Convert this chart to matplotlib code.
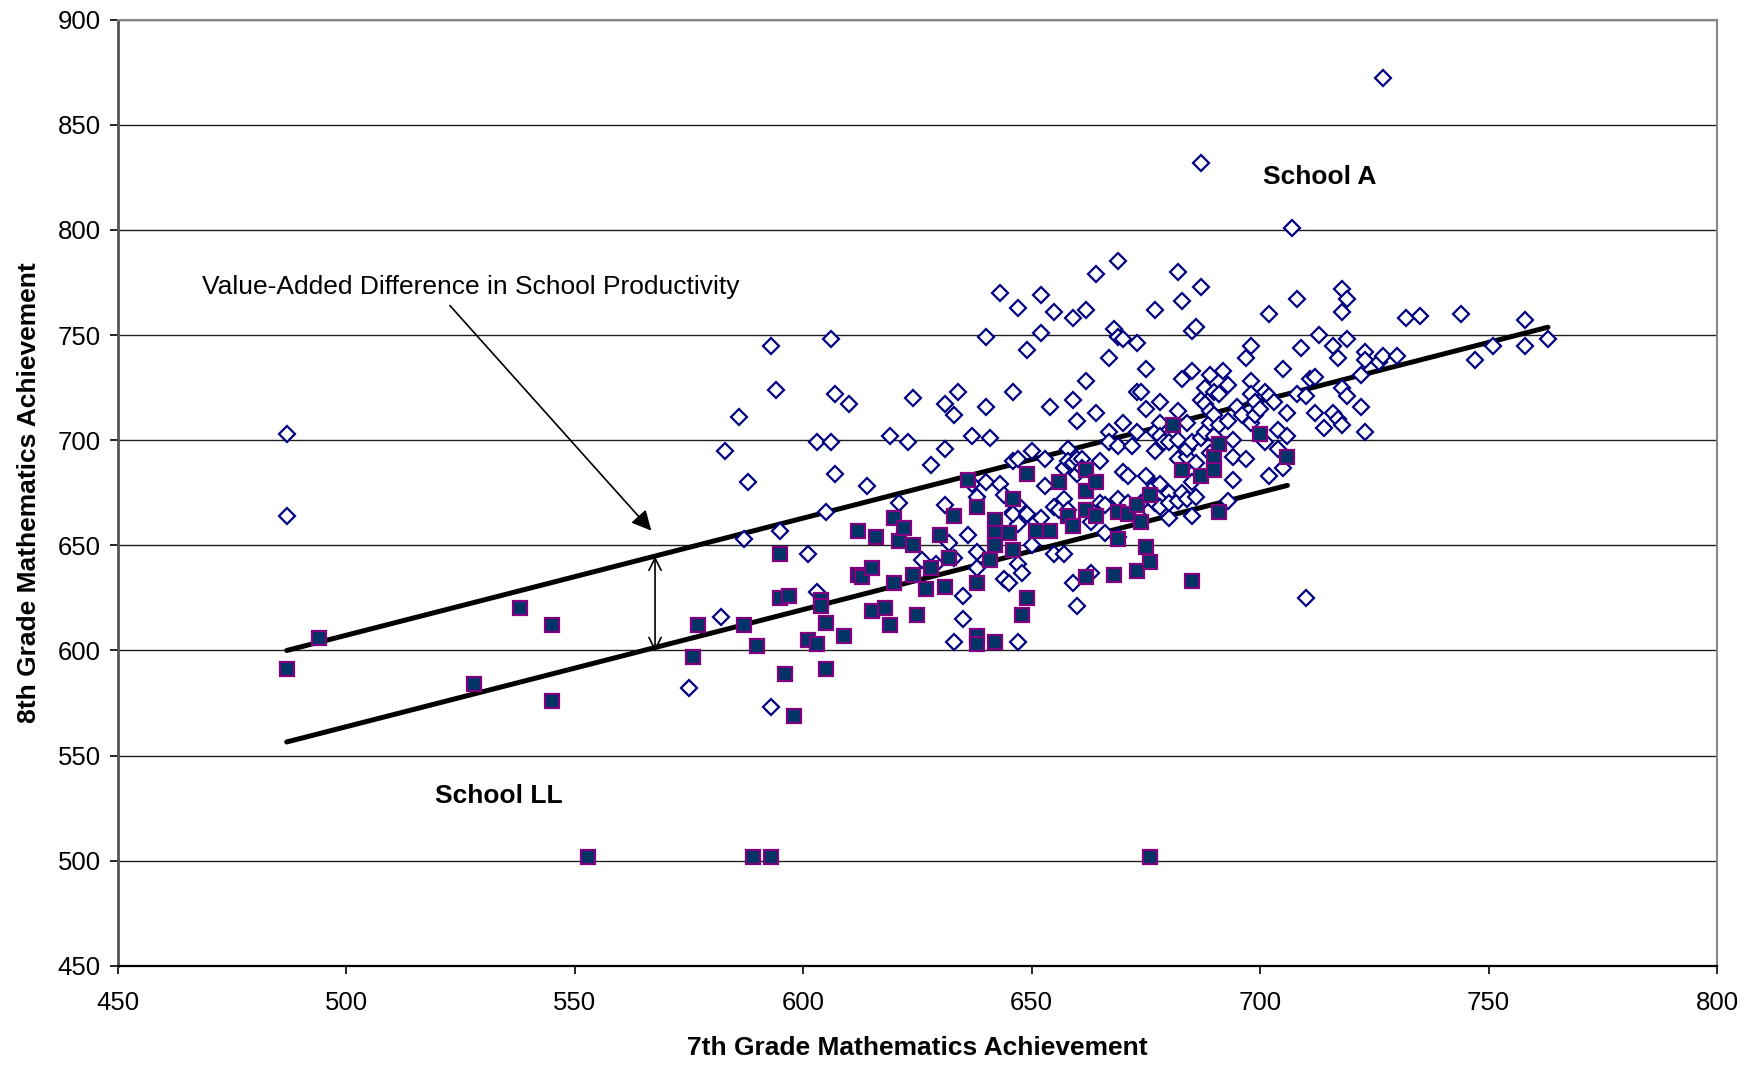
import numpy as np
import matplotlib
matplotlib.use("Agg")
import matplotlib.pyplot as plt

plt.rcParams['font.family'] = ['Liberation Sans', 'DejaVu Sans']

# School A students: (7th grade score, 8th grade score)
school_a = [
    (487, 703), (487, 664),
    (575, 582), (582, 616), (583, 695), (586, 711), (587, 653), (588, 680),
    (593, 745), (593, 573), (594, 724), (595, 657), (601, 646), (603, 628),
    (603, 699), (605, 666), (606, 699), (606, 748), (607, 722), (607, 684),
    (610, 717), (614, 678), (619, 702), (621, 670), (623, 699), (624, 720),
    (626, 643), (628, 688), (629, 641), (631, 717), (631, 696), (631, 669),
    (632, 651), (633, 712), (633, 644), (633, 604), (634, 723), (635, 626),
    (635, 615), (637, 702), (636, 655), (637, 679), (638, 673), (638, 647),
    (638, 639), (640, 749), (640, 716), (641, 701), (640, 680), (643, 770),
    (643, 679), (644, 674), (644, 634), (645, 632), (646, 690), (646, 723),
    (646, 666), (647, 763), (647, 691), (647, 669), (647, 641), (647, 604),
    (647, 660), (648, 637), (646, 665), (649, 743), (649, 665), (650, 695),
    (650, 650), (651, 661), (652, 769), (652, 751), (652, 663), (653, 678),
    (653, 691), (654, 716), (655, 646), (657, 646), (655, 761), (655, 668),
    (656, 667), (657, 687), (657, 672), (658, 696), (658, 690), (658, 667),
    (659, 758), (659, 719), (659, 689), (659, 632), (660, 709), (660, 691),
    (660, 684), (660, 621), (661, 691), (661, 687), (662, 762), (662, 728),
    (663, 637), (663, 661), (664, 779), (664, 713), (665, 690), (665, 670),
    (666, 656), (666, 669), (667, 739), (667, 704), (667, 699), (668, 753),
    (669, 785), (669, 749), (669, 697), (669, 672), (669, 654), (670, 748),
    (670, 708), (670, 685), (671, 683), (671, 670), (672, 697), (673, 746),
    (673, 723), (673, 704), (673, 665), (674, 723), (674, 670), (675, 734),
    (675, 715), (675, 683), (677, 762), (677, 704), (677, 695), (677, 670),
    (677, 678), (678, 718), (678, 708), (678, 702), (678, 679), (678, 668),
    (679, 699), (680, 699), (680, 675), (680, 663), (680, 670), (682, 780),
    (682, 714), (682, 691), (682, 671), (682, 700), (683, 766), (683, 729),
    (683, 675), (684, 708), (684, 692), (684, 672), (684, 696), (685, 752),
    (685, 733), (685, 699), (685, 684), (685, 680), (685, 664), (686, 754),
    (686, 689), (686, 673), (687, 832), (687, 773), (687, 719), (687, 701),
    (688, 725), (688, 717), (688, 704), (689, 731), (689, 714), (689, 708),
    (689, 694), (690, 723), (690, 712), (690, 702), (691, 722), (691, 707),
    (692, 733), (693, 726), (693, 709), (693, 671), (694, 700), (694, 692),
    (694, 681), (695, 716), (696, 712), (697, 739), (697, 691), (698, 745),
    (698, 728), (698, 722), (698, 708), (699, 718), (699, 712), (700, 715),
    (701, 723), (701, 699), (702, 760), (702, 721), (702, 683), (703, 718),
    (704, 705), (704, 696), (705, 734), (705, 687), (706, 713), (706, 702),
    (707, 801), (708, 767), (708, 722), (709, 744), (710, 721), (710, 625),
    (711, 729), (712, 730), (712, 713), (713, 750), (714, 706), (716, 745),
    (716, 713), (717, 739), (717, 710), (718, 772), (718, 761), (718, 725),
    (718, 707), (719, 767), (719, 748), (719, 721), (722, 731), (722, 716),
    (723, 742), (723, 738), (723, 704), (726, 737), (727, 740), (727, 872),
    (730, 740), (732, 758), (735, 759), (744, 760), (747, 738), (751, 745),
    (758, 757), (758, 745), (763, 748),
]

# School LL students
school_ll = [
    (487, 591), (494, 606), (528, 584), (538, 620), (545, 612), (545, 576),
    (553, 502), (576, 597), (577, 612), (587, 612), (589, 502), (590, 602),
    (593, 502), (595, 646), (595, 625), (596, 589), (597, 626), (598, 569),
    (601, 605), (603, 603), (604, 624), (604, 621), (605, 613), (605, 591),
    (609, 607), (612, 657), (612, 636), (613, 635), (615, 639), (615, 619),
    (616, 654), (618, 620), (619, 612), (620, 663), (620, 632), (621, 652),
    (622, 658), (624, 650), (624, 636), (625, 617), (627, 629), (628, 639),
    (630, 655), (631, 630), (632, 644), (633, 664), (636, 681), (638, 668),
    (638, 632), (638, 607), (638, 603), (641, 643), (642, 662), (642, 656),
    (642, 650), (642, 604), (645, 656), (646, 672), (646, 648), (648, 617),
    (649, 684), (649, 625), (651, 657), (654, 657), (656, 680), (658, 664),
    (659, 659), (662, 686), (662, 676), (662, 667), (662, 635), (664, 680),
    (664, 664), (668, 636), (669, 666), (669, 653), (671, 665), (673, 669),
    (673, 638), (674, 661), (675, 649), (676, 674), (676, 642), (676, 502),
    (681, 707), (683, 686), (685, 633), (687, 683), (690, 692), (690, 686),
    (691, 698), (691, 666), (700, 703), (706, 692),
]

# fitted lines for each school (same slope)
line_a_x = [487, 763]
line_a_y = [600, 753.7]
line_ll_x = [487, 706]
line_ll_y = [556.5, 678.5]

a = np.array(school_a)
ll = np.array(school_ll)

fig = plt.figure(figsize=(17.56, 10.67), dpi=100)
ax = fig.add_axes([0.067, 0.0947, 0.9108, 0.887])

ax.plot(line_a_x, line_a_y, color='black', lw=3.6, solid_capstyle='round', zorder=2)
ax.plot(line_ll_x, line_ll_y, color='black', lw=3.6, solid_capstyle='round', zorder=2)

ax.plot(a[:, 0], a[:, 1], linestyle='None', marker='D', markersize=7.8,
        markerfacecolor='white', markeredgecolor='#000080', markeredgewidth=1.6, zorder=3)
ax.plot(ll[:, 0], ll[:, 1], linestyle='None', marker='s', markersize=10,
        markerfacecolor='#003366', markeredgecolor='#800080', markeredgewidth=1.6, zorder=4)

ax.set_xlim(450, 800)
ax.set_ylim(450, 900)
ax.set_xticks(np.arange(450, 801, 50))
ax.set_yticks(np.arange(450, 901, 50))
ax.yaxis.grid(True, color='#202020', lw=1.0)
ax.set_axisbelow(True)
ax.tick_params(axis='both', direction='out', length=6, width=1.2, labelsize=18.5, colors='black')
ax.tick_params(axis='y', pad=6)
ax.tick_params(axis='x', pad=12)

ax.spines['left'].set_color('#555555')
ax.spines['left'].set_linewidth(2.0)
ax.spines['bottom'].set_color('black')
ax.spines['bottom'].set_linewidth(1.6)
ax.spines['right'].set_color('#888888')
ax.spines['right'].set_linewidth(1.5)
ax.spines['top'].set_color('#888888')
ax.spines['top'].set_linewidth(1.5)

ax.set_xlabel('7th Grade Mathematics Achievement', fontsize=19, fontweight='bold', labelpad=15)
ax.set_ylabel('8th Grade Mathematics Achievement', fontsize=19, fontweight='bold', labelpad=12)

ax.text(713, 825, 'School A', fontsize=19, fontweight='bold', ha='center', va='center')
ax.text(533.5, 531, 'School LL', fontsize=19, fontweight='bold', ha='center', va='center')

ax.annotate('', xy=(567.2, 656), xytext=(522.3, 765),
            arrowprops=dict(arrowstyle='-|>', color='black', lw=1.2, mutation_scale=30))
ax.text(468.4, 773, 'Value-Added Difference in School Productivity', fontsize=19,
        ha='left', va='center')

ax.annotate('', xy=(567.6, 644.8), xytext=(567.6, 599.5),
            arrowprops=dict(arrowstyle='<->', color='black', lw=1.2, mutation_scale=22,
                            shrinkA=0, shrinkB=0))

fig.savefig('out.png', dpi=100)
